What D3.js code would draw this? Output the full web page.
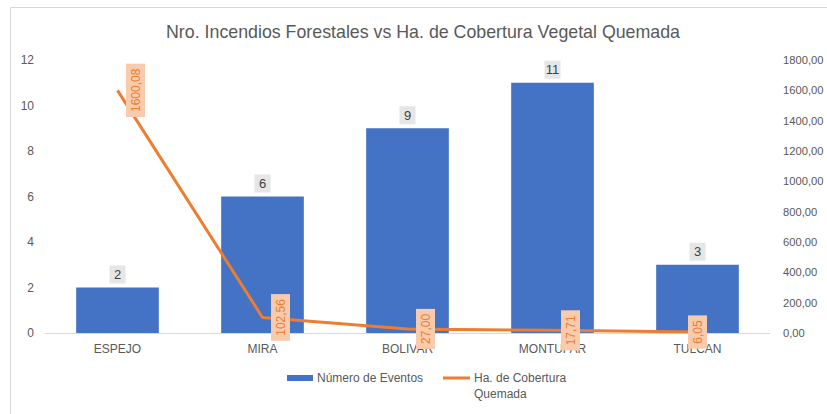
<!DOCTYPE html>
<html>
<head>
<meta charset="utf-8">
<script src="https://cdn.jsdelivr.net/npm/d3@7"></script>
<style>
  html, body { margin: 0; padding: 0; background: #fff; }
  svg { display: block; font-family: "Liberation Sans", Arial, sans-serif; }
</style>
</head>
<body>
<svg id="chart" width="827" height="414"></svg>
<script>
const categories = ["ESPEJO", "MIRA", "BOLIVAR", "MONTUFAR", "TULCAN"];
const eventos = [2, 6, 9, 11, 3];
const hectareas = [1600.08, 102.56, 27.00, 17.71, 6.05];
const leftTicks = [0, 2, 4, 6, 8, 10, 12];
const rightTicks = [0, 200, 400, 600, 800, 1000, 1200, 1400, 1600, 1800];
const title = "Nro. Incendios Forestales vs Ha. de Cobertura Vegetal Quemada";
const seriesNames = ["Número de Eventos", "Ha. de Cobertura Quemada"];

const svg = d3.select("#chart");
const W = 827, H = 414;
const plot = { left: 45, right: 770, top: 60, bottom: 333 };
const blue = "#4472C4", orange = "#ED7D31", grey = "#595959";
const fmt = v => d3.format(".2f")(v).replace(".", ",");

// frame
svg.append("path")
  .attr("d", `M10.5,${H} L10.5,7.5 L${W},7.5`)
  .attr("fill", "none").attr("stroke", "#d9d9d9").attr("stroke-width", 1);

// title
svg.append("text")
  .attr("x", 423).attr("y", 38)
  .attr("text-anchor", "middle")
  .attr("font-size", 17.8).attr("fill", grey)
  .text(title);

const x = d3.scaleBand().domain(categories)
  .range([plot.left, plot.right]).paddingInner(0.43).paddingOuter(0.215);
const yL = d3.scaleLinear().domain([0, 12]).range([plot.bottom, plot.top]);
const yR = d3.scaleLinear().domain([0, 1800]).range([plot.bottom, plot.top]);

// left axis
const axL = svg.append("g").attr("transform", `translate(${plot.left},0)`)
  .call(d3.axisLeft(yL).tickValues(leftTicks).tickSize(0).tickPadding(11));
axL.select(".domain").remove();
axL.selectAll("text").attr("font-size", 12).attr("fill", grey).style("font-family", "inherit");

// right axis
const axR = svg.append("g").attr("transform", `translate(${plot.right},0)`)
  .call(d3.axisRight(yR).tickValues(rightTicks).tickSize(0).tickPadding(13).tickFormat(fmt));
axR.select(".domain").remove();
axR.selectAll("text").attr("font-size", 11.2).attr("fill", grey).style("font-family", "inherit");

// bars
svg.append("g").selectAll("rect").data(categories).join("rect")
  .attr("x", d => x(d))
  .attr("y", (d, i) => yL(eventos[i]))
  .attr("width", x.bandwidth())
  .attr("height", (d, i) => yL(0) - yL(eventos[i]))
  .attr("fill", blue);

// bottom axis
const axB = svg.append("g").attr("transform", `translate(0,${plot.bottom})`)
  .call(d3.axisBottom(x).tickSize(0).tickPadding(11));
axB.select(".domain").attr("stroke", "#d9d9d9").attr("d", `M${plot.left},0.5H${plot.right}`);
axB.selectAll("text").attr("font-size", 12).attr("fill", grey).style("font-family", "inherit");

// bar labels
const bl = svg.append("g").selectAll("g").data(categories).join("g")
  .attr("transform", (d, i) => `translate(${x(d) + x.bandwidth() / 2},${yL(eventos[i]) - 13})`);
bl.append("rect").attr("x", -8).attr("y", -9).attr("width", 16).attr("height", 18).attr("fill", "#e7e6e6");
bl.append("text").attr("text-anchor", "middle").attr("dy", "0.36em")
  .attr("font-size", 13).attr("fill", "#404040").text((d, i) => eventos[i]);

// line
const cx = d => x(d) + x.bandwidth() / 2;
svg.append("path")
  .datum(categories)
  .attr("fill", "none").attr("stroke", orange).attr("stroke-width", 3).attr("stroke-linejoin", "round")
  .attr("d", d3.line().x(d => cx(d)).y((d, i) => yR(hectareas[i])));

// line labels (rotated)
const ll = svg.append("g").selectAll("g").data(categories).join("g")
  .attr("transform", (d, i) => {
    const dx = i === categories.length - 1 ? 0 : 18;
    return `translate(${cx(d) + dx},${yR(hectareas[i])}) rotate(-90)`;
  });
ll.each(function(d, i) {
  const g = d3.select(this);
  const t = g.append("text").attr("text-anchor", "middle").attr("dy", "0.36em")
    .attr("font-size", 12).attr("fill", orange).text(fmt(hectareas[i]));
  const w = t.node().getComputedTextLength();
  g.insert("rect", "text").attr("x", -w / 2 - 5).attr("y", -9.5).attr("width", w + 10).attr("height", 19)
    .attr("fill", "#f8cbad");
});

// legend
const lg = svg.append("g");
lg.append("rect").attr("x", 287).attr("y", 375).attr("width", 26).attr("height", 6).attr("fill", blue);
lg.append("text").attr("x", 317).attr("y", 382).attr("font-size", 12).attr("fill", grey).text(seriesNames[0]);
lg.append("line").attr("x1", 443).attr("x2", 470).attr("y1", 378).attr("y2", 378)
  .attr("stroke", orange).attr("stroke-width", 3);
lg.append("text").attr("x", 474).attr("y", 382).attr("font-size", 12).attr("fill", grey).text("Ha. de Cobertura");
lg.append("text").attr("x", 474).attr("y", 398).attr("font-size", 12).attr("fill", grey).text("Quemada");
</script>
</body>
</html>
